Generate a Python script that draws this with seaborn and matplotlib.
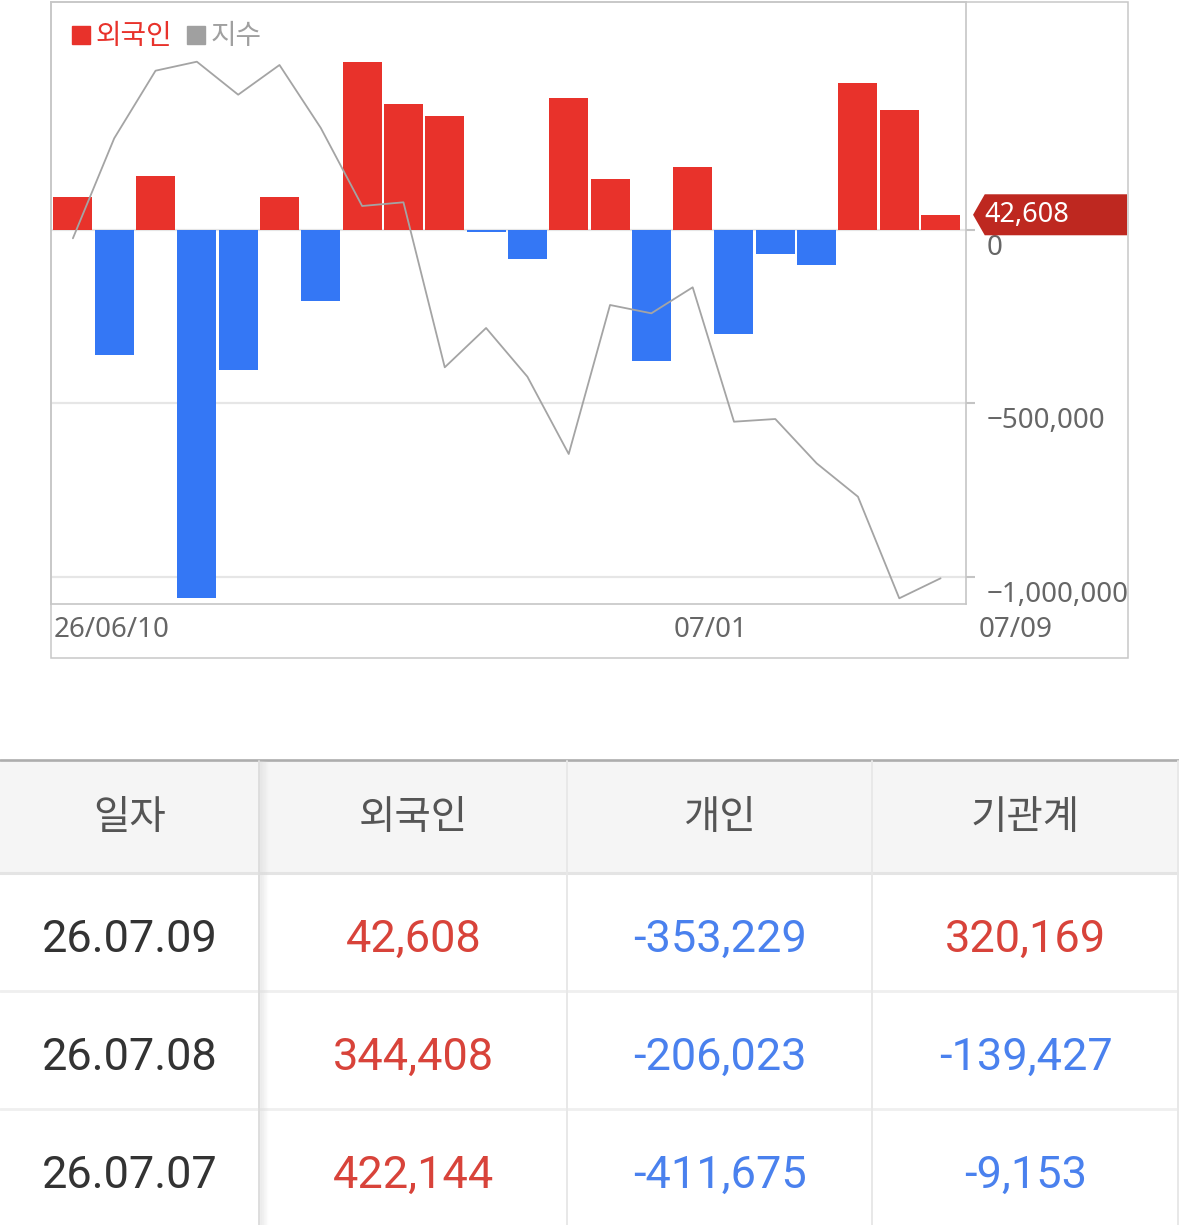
import numpy as np
import pandas as pd
import matplotlib
matplotlib.use("Agg")
import matplotlib.pyplot as plt
import seaborn as sns
from matplotlib.patches import Rectangle, Polygon
from matplotlib.lines import Line2D
from matplotlib.transforms import ScaledTranslation, blended_transform_factory

# ---- data ----
dates = ["26/06/10", "06/11", "06/12", "06/15", "06/16", "06/17", "06/18", "06/19",
         "06/22", "06/23", "06/24", "06/25", "06/26", "06/29", "06/30", "07/01",
         "07/02", "07/03", "07/06", "07/07", "07/08", "07/09"]
foreign = [94800, -361200, 155200, -1059500, -404300, 94800, -206000, 482800,
           362100, 327600, -7700, -85300, 379300, 146600, -378400, 181000,
           -300800, -69000, -102600, 422144, 344408, 42608]
index_vals = [2865.7, 2965.7, 3033.3, 3042.3, 3009.3, 3039.0, 2976.0, 2898.0,
              2901.7, 2736.7, 2776.0, 2727.3, 2650.0, 2799.0, 2790.7, 2816.7,
              2682.3, 2685.0, 2640.7, 2607.3, 2505.7, 2525.7]
tick_idx = [0, 15, 21]
tick_labels = ["26/06/10", "07/01", "07/09"]
y_ticks = [0, -500000, -1000000]
legend_labels = ["외국인", "지수"]

table_cols = ["일자", "외국인", "개인", "기관계"]
table_dates = ["26.07.09", "26.07.08", "26.07.07"]
table_foreign = [42608, 344408, 422144]
table_personal = [-353229, -206023, -411675]
table_inst = [320169, -139427, -9153]

RED = "#E8322B"
BLUE = "#3477F5"
GRAY_LINE = "#a4a4a4"
TAG = "#BE2820"
TXT_RED = "#D8433A"
TXT_BLUE = "#4A81EE"

sns.set_style("white")
plt.rcParams["font.family"] = ["Noto Sans", "Noto Sans CJK KR", "DejaVu Sans"]

W, H = 1179, 1225
fig = plt.figure(figsize=(W / 100, H / 100), dpi=100)
fig.patch.set_facecolor("white")

# outer chart frame
fig.patches.append(Rectangle((51 / W, 1 - 658 / H), 1077 / W, 656 / H,
                             transform=fig.transFigure, fill=False,
                             ec="#c8c8c8", lw=1.1))

ax = fig.add_axes([51 / W, 1 - 604 / H, 915 / W, 602 / H])
df = pd.DataFrame({"date": dates, "foreign": foreign})
df["side"] = np.where(df["foreign"] >= 0, "buy", "sell")
sns.barplot(data=df, x="date", y="foreign", hue="side", order=dates,
            palette={"buy": RED, "sell": BLUE}, dodge=False, width=0.944,
            saturation=1, errorbar=None, legend=False, linewidth=0, ax=ax)

ax2 = ax.twinx()
sns.lineplot(x=np.arange(len(index_vals)), y=index_vals, ax=ax2,
             color=GRAY_LINE, lw=1.3)
ax2.set_ylim(2500, 3102)
ax2.axis("off")

ax.set_xlim(-0.53, 21.615)
ax.set_ylim(-1077600, 655000)
ax.set_xlabel("")
ax.set_ylabel("")

for s in ax.spines.values():
    s.set_color("#c6c6c6")
    s.set_linewidth(1.2)

ax.yaxis.tick_right()
ax.set_yticks(y_ticks)
ax.set_yticklabels([f"{v:,}".replace("-", "\u2212") for v in y_ticks])
ax.yaxis.grid(True, color="#e6e6e6", lw=1.6)
ax.set_axisbelow(True)
ax.tick_params(axis="y", length=6.5, width=1.5, color="#c4c4c4", pad=8.5,
               labelsize=20, labelcolor="#666666")
for lbl in ax.get_yticklabels():
    lbl.set_va("top")
    lbl.set_transform(lbl.get_transform() + ScaledTranslation(0, -0.04, fig.dpi_scale_trans))

ax.set_xticks(tick_idx)
ax.set_xticklabels(tick_labels)
ax.tick_params(axis="x", length=0, pad=8.5, labelsize=20, labelcolor="#666666")
for lbl, dx in zip(ax.get_xticklabels(), [-19.5, -19.5, 37.6]):
    lbl.set_ha("left")
    lbl.set_transform(lbl.get_transform() + ScaledTranslation(dx / 100, 0, fig.dpi_scale_trans))

# legend
handles = [Line2D([], [], marker="s", ls="none", ms=13, color=RED),
           Line2D([], [], marker="s", ls="none", ms=12.5, color="#a0a0a0")]
ax.legend(handles, legend_labels, loc="upper left", bbox_to_anchor=(0.021, 0.968),
          ncol=2, frameon=False, handlelength=0.8, handletextpad=0.12,
          columnspacing=0.45, borderaxespad=0, borderpad=0,
          labelcolor=[RED, "#a0a0a0"], prop={"family": ["Noto Sans CJK KR"], "size": 20})

# last value tag
last = foreign[-1]
h = 20.5 * (655000 + 1077600) / 602
tr = blended_transform_factory(ax.transAxes, ax.transData)
ax.add_patch(Polygon([(1.0077, last), (1.0205, last + h), (1.176, last + h),
                      (1.176, last - h), (1.0205, last - h)], closed=True,
                     transform=tr, fc=TAG, ec="none", clip_on=False, zorder=10))
ax.text(1.0197, last, f"{last:,}", transform=tr, color="white", fontsize=19.5,
        va="center", ha="left", zorder=11, clip_on=False)

# ---- table ----
tab = fig.add_axes([0, 0, 1, 485 / H])
tab.set_xlim(0, W)
tab.set_ylim(H, 740)
tab.axis("off")

tab.add_patch(Rectangle((0, 760), W, 113, fc="#f5f5f5", ec="none"))
tab.plot([0, W], [759.5, 759.5], color="#adadad", lw=1.9)
tab.plot([0, W], [873, 873], color="#e4e4e4", lw=2.2)
for yy in [990.5, 1108.5]:
    tab.plot([0, W], [yy, yy], color="#efefef", lw=2)
for xx in [567, 872, 1178]:
    tab.plot([xx, xx], [761, H], color="#e8e8e8", lw=1.4)
# sticky first column with shadow
tab.plot([259, 259], [761, H], color="#dedede", lw=1.4)
for k in range(1, 9):
    tab.plot([259 + k, 259 + k], [761, H], color="#d8d8d8", lw=1,
             alpha=0.45 * (1 - k / 9))

col_x = [130, 413.5, 719.5, 1025.5]
for x, t in zip(col_x, table_cols):
    tab.text(x, 818, t, ha="center", va="center", fontsize=28.5, color="#555555",
             family=["Noto Sans CJK KR"])


def vcol(v):
    return TXT_RED if v > 0 else TXT_BLUE


for i, d in enumerate(table_dates):
    yb = 952 + i * 118
    tab.text(col_x[0], yb, d, ha="center", va="baseline", fontsize=32.5,
             color="#333333", family=["Roboto"])
    for j, series in enumerate([table_foreign, table_personal, table_inst]):
        v = series[i]
        tab.text(col_x[j + 1], yb, f"{v:,}", ha="center", va="baseline",
                 fontsize=32.5, color=vcol(v), family=["Roboto"])

fig.savefig("out.png", dpi=100)
